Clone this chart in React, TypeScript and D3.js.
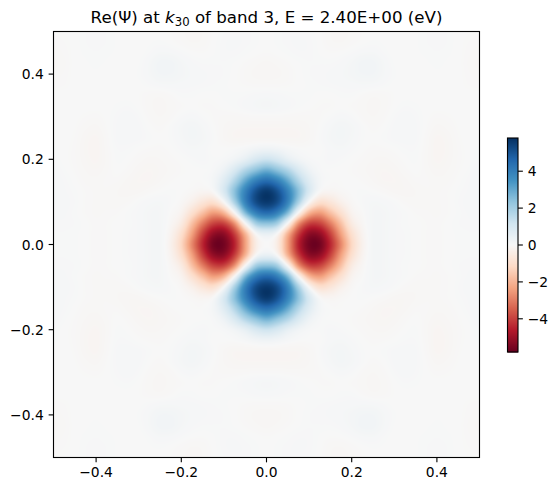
import React, { useEffect, useState } from "react";
import * as d3 from "d3";

const W = 558, H = 491;
const tickValues = [-0.4, -0.2, 0, 0.2, 0.4];
const tickLabels = ["−0.4", "−0.2", "0.0", "0.2", "0.4"];
const cbarTicks = [-4, -2, 0, 2, 4];
const cbarLabels = ["−4", "−2", "0", "2", "4"];
const vLimit = 5.8;
const rdBuStops = ["#67001f", "#b2182b", "#d6604d", "#f4a582", "#fddbc7", "#f7f7f7", "#d1e5f0", "#92c5de", "#4393c3", "#2166ac", "#053061"];
const gridStep = 0.025;
// Re(Psi), read by eye on one quadrant: rows y = 0..0.5, columns x = 0..0.5
const quadrant = [
  [0, -.45, -2.4, -4.5, -5.6, -5.6, -4.4, -2.8, -1.2, -.25, .1, .1, .05, .03, 0, -.02, -.03, 0, .02, .03, .03],
  [.45, 0, -2.0, -4.02, -5.19, -5.1, -3.95, -2.35, -.95, -.18, .1, .1, .05, .03, 0, -.02, -.03, 0, .02, .03, .03],
  [2.4, 2.0, 0, -2.59, -3.9, -3.9, -2.95, -1.7, -.5, -.07, .1, .1, .05, .02, 0, -.02, -.03, 0, .03, .04, .04],
  [4.5, 4.02, 2.59, 0, -1.9, -2.4, -1.7, -.9, -.2, -.01, .1, .1, .05, .02, -.02, -.03, -.04, -.02, .02, .05, .06],
  [5.6, 5.19, 3.9, 1.9, 0, -.9, -.7, -.3, -.05, .03, .08, .06, .02, -.03, -.05, -.05, -.04, -.02, .03, .06, .08],
  [5.6, 5.1, 3.9, 2.4, .9, 0, -.12, -.05, 0, .02, 0, -.03, -.07, -.08, -.06, -.04, -.04, -.02, .02, .05, .08],
  [4.4, 3.95, 2.95, 1.7, .7, .12, 0, -.01, 0, -.02, -.06, -.1, -.1, -.07, -.03, -.03, -.05, -.04, 0, .04, .07],
  [2.8, 2.35, 1.7, .9, .3, .05, .01, 0, -.02, -.05, -.08, -.1, -.08, -.03, 0, -.04, -.08, -.06, -.02, .02, .06],
  [1.2, .95, .5, .2, .05, .02, .05, .03, 0, -.03, -.06, -.07, -.04, 0, .02, -.05, -.11, -.08, -.03, 0, .03],
  [.25, .18, .07, .01, 0, 0, .06, .08, .04, 0, -.03, -.02, 0, .03, .03, -.04, -.12, -.09, -.03, 0, .02],
  [-.1, -.1, -.1, -.1, -.06, .02, .1, .14, .08, .02, 0, .02, .05, .06, .05, -.03, -.11, -.08, -.02, 0, 0],
  [-.1, -.1, -.1, -.09, -.06, 0, .08, .14, .09, .02, -.03, 0, .05, .07, .05, -.01, -.07, -.05, -.01, 0, 0],
  [-.02, -.02, -.03, -.04, -.04, -.02, .02, .06, .03, -.03, -.06, -.03, .03, .06, .04, 0, -.03, -.02, 0, .01, 0],
  [.1, .08, .05, .02, 0, -.02, -.02, 0, -.02, -.05, -.07, -.05, 0, .03, .02, 0, 0, 0, 0, 0, 0],
  [.06, .05, .03, .02, .02, 0, 0, .02, .02, -.02, -.05, -.04, -.01, 0, 0, 0, 0, 0, 0, 0, 0],
  [-.03, -.03, -.02, 0, .02, .03, .04, .05, .06, .07, .06, .03, 0, -.01, -.01, 0, 0, .01, 0, -.02, -.03],
  [-.08, -.07, -.04, 0, .03, .04, .05, .07, .11, .16, .16, .08, .02, 0, 0, 0, .01, .01, 0, -.03, -.05],
  [-.07, -.05, -.02, .01, .03, .03, .03, .05, .1, .18, .18, .08, .01, 0, 0, .01, .02, .01, 0, -.04, -.07],
  [-.02, 0, .02, .04, .04, .01, -.01, 0, .03, .07, .08, .03, 0, 0, .01, .02, .03, .02, 0, -.03, -.05],
  [0, .02, .04, .05, .04, 0, -.05, -.06, -.03, 0, .02, .01, 0, 0, .01, .03, .04, .03, 0, -.02, -.03],
  [0, .02, .04, .04, .03, -.01, -.06, -.08, -.05, -.02, 0, 0, 0, .01, .01, .03, .04, .03, 0, -.01, -.02],
];

const plot = { left: 53.5, right: 479.5, top: 31.5, bottom: 457.5 };
const cbar = { left: 507.5, right: 518, top: 138, bottom: 352 };

const color = d3
  .scaleLinear<string>()
  .domain(rdBuStops.map((_, i) => -vLimit + (2 * vLimit * i) / 10))
  .range(rdBuStops)
  .interpolate(d3.interpolateRgb)
  .clamp(true);

const x = d3.scaleLinear().domain([-0.5, 0.5]).range([plot.left, plot.right]);
const y = d3.scaleLinear().domain([-0.5, 0.5]).range([plot.bottom, plot.top]);
const cy = d3.scaleLinear().domain([-vLimit, vLimit]).range([cbar.bottom, cbar.top]);

function cell(i: number, j: number) {
  const n = quadrant.length - 1;
  return quadrant[Math.min(Math.abs(j), n)][Math.min(Math.abs(i), n)];
}
function cr(a: number, b: number, c: number, d: number, t: number) {
  return b + 0.5 * t * (c - a + t * (2 * a - 5 * b + 4 * c - d + t * (3 * (b - c) + d - a)));
}
function sample(px: number, py: number) {
  const u = Math.abs(px) / gridStep, v = Math.abs(py) / gridStep;
  const i = Math.floor(u), j = Math.floor(v);
  const row = (k: number) => cr(cell(i - 1, k), cell(i, k), cell(i + 1, k), cell(i + 2, k), u - i);
  return cr(row(j - 1), row(j), row(j + 1), row(j + 2), v - j);
}

export default function App() {
  const [href, setHref] = useState("");
  useEffect(() => {
    const w = plot.right - plot.left, h = plot.bottom - plot.top;
    const canvas = document.createElement("canvas");
    canvas.width = w;
    canvas.height = h;
    const ctx = canvas.getContext("2d")!;
    const img = ctx.createImageData(w, h);
    for (let r = 0; r < h; r++) {
      for (let c = 0; c < w; c++) {
        const col = d3.rgb(color(sample(x.invert(plot.left + c + 0.5), y.invert(plot.top + r + 0.5))));
        const o = (r * w + c) * 4;
        img.data[o] = col.r;
        img.data[o + 1] = col.g;
        img.data[o + 2] = col.b;
        img.data[o + 3] = 255;
      }
    }
    ctx.putImageData(img, 0, 0);
    setHref(canvas.toDataURL());
  }, []);

  const font = "'DejaVu Sans', sans-serif";
  const ink = "#000";
  const strip = d3.range(cbar.top, cbar.bottom, 1);
  return (
    <svg width={W} height={H} viewBox={`0 0 ${W} ${H}`} style={{ position: "absolute", left: 0, top: 0, background: "#fff" }} fontFamily={font}>
      {href && <image href={href} x={plot.left} y={plot.top} width={plot.right - plot.left} height={plot.bottom - plot.top} />}
      <rect x={plot.left} y={plot.top} width={plot.right - plot.left} height={plot.bottom - plot.top} fill="none" stroke={ink} strokeWidth={1.11} />
      {tickValues.map((t, i) => (
        <g key={`x${i}`}>
          <line x1={x(t)} x2={x(t)} y1={plot.bottom} y2={plot.bottom + 4.86} stroke={ink} strokeWidth={1.11} />
          <text x={x(t)} y={plot.bottom + 19.5} textAnchor="middle" fontSize={13.89} fill={ink}>{tickLabels[i]}</text>
          <line x1={plot.left} x2={plot.left - 4.86} y1={y(t)} y2={y(t)} stroke={ink} strokeWidth={1.11} />
          <text x={plot.left - 9.7} y={y(t) + 5} textAnchor="end" fontSize={13.89} fill={ink}>{tickLabels[i]}</text>
        </g>
      ))}
      <text x={266.5} y={23} textAnchor="middle" fontSize={16.67} fill={ink}>
        Re(Ψ) at <tspan fontStyle="italic">k</tspan><tspan fontSize={11.67} dy={2.5}>30</tspan><tspan dy={-2.5}> of band 3, E = 2.40E+00 (eV)</tspan>
      </text>
      {strip.map((p) => (
        <rect key={p} x={cbar.left} y={p} width={cbar.right - cbar.left} height={1.5} fill={color(cy.invert(p + 0.5))} />
      ))}
      <rect x={cbar.left} y={cbar.top} width={cbar.right - cbar.left} height={cbar.bottom - cbar.top} fill="none" stroke={ink} strokeWidth={1.11} />
      {cbarTicks.map((t, i) => (
        <g key={`c${i}`}>
          <line x1={cbar.right} x2={cbar.right + 4.86} y1={cy(t)} y2={cy(t)} stroke={ink} strokeWidth={1.11} />
          <text x={cbar.right + 9.7} y={cy(t) + 5} fontSize={13.89} fill={ink}>{cbarLabels[i]}</text>
        </g>
      ))}
    </svg>
  );
}
